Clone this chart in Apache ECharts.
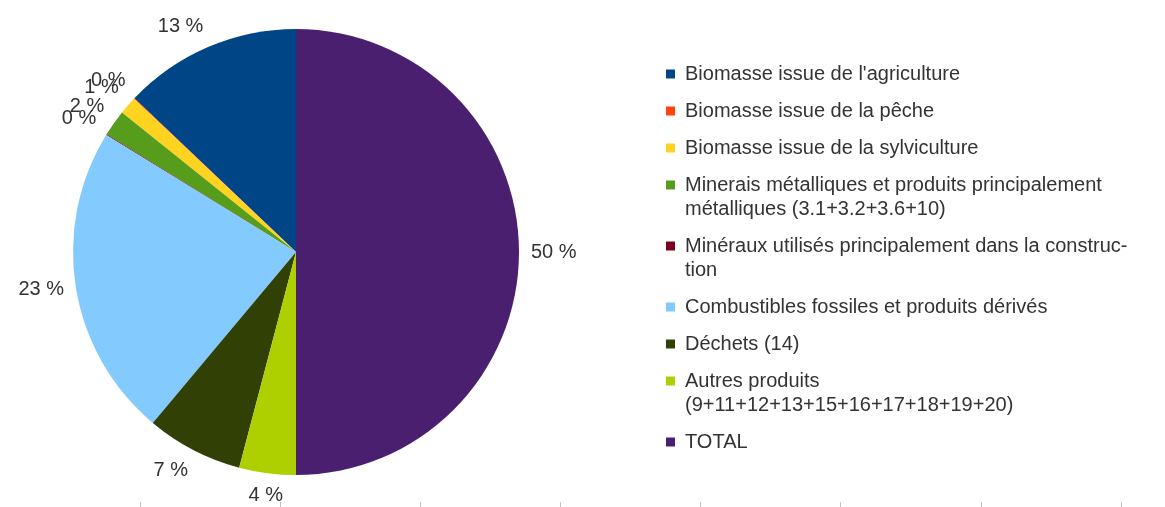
<!DOCTYPE html>
<html>
<head>
<meta charset="utf-8">
<script src="https://cdn.jsdelivr.net/npm/echarts@6/dist/echarts.min.js"></script>
<style>
  html, body { margin: 0; padding: 0; background: #fff; }
  #chart { width: 1165px; height: 507px; }
</style>
</head>
<body>
<div id="chart"></div>
<script>
// Categories of material flows (legend order)
const categories = [
  "Biomasse issue de l'agriculture",
  "Biomasse issue de la pêche",
  "Biomasse issue de la sylviculture",
  "Minerais métalliques et produits principalement\nmétalliques (3.1+3.2+3.6+10)",
  "Minéraux utilisés principalement dans la construc-\ntion",
  "Combustibles fossiles et produits dérivés",
  "Déchets (14)",
  "Autres produits\n(9+11+12+13+15+16+17+18+19+20)",
  "TOTAL"
];
// Shares (%)
const values = [12.9, 0.05, 1.3, 1.9, 0.05, 22.7, 7.0, 4.1, 50.0];
const colors = ['#004586', '#ff420e', '#ffd320', '#579d1c', '#7e0021', '#83caff', '#314004', '#aecf00', '#4b1f6f'];
// Decorative baseline ticks under the plot
const baseTicks = [0, 1, 2, 3, 4, 5, 6, 7];

const CENTER = [296, 252];
const RADIUS = 223;
const LABEL_GAP = 12;
const FONT = '"Liberation Sans", Arial, sans-serif';
const FONT_SIZE = 20;
const LINE_H = 24;
const LEGEND_LEFT = 666;
const LEGEND_TOP = 62;
const LEGEND_GAP = 13;

// Mid-angle of each slice, counter-clockwise from 12 o'clock
const sum = values.reduce((a, b) => a + b, 0);
const midAngles = [];
let acc = 0;
values.forEach(v => { midAngles.push((acc + v / 2) / sum * 2 * Math.PI); acc += v; });

// One legend block per entry so that multi-line entries keep the swatch on their first line
const legends = [];
let cursor = LEGEND_TOP;
categories.forEach(name => {
  const lines = name.split('\n').length;
  const multi = lines > 1;
  legends.push({
    orient: 'vertical',
    left: LEGEND_LEFT,
    top: cursor,
    padding: 0,
    itemWidth: 9,
    itemHeight: multi ? LINE_H + 9 : 9,
    // swatch drawn in the top 9px of a taller box for wrapped entries
    icon: multi ? 'path://M0,0h9v9h-9zM0,' + (LINE_H + 9 - 0.01) + 'h0.01v0.01h-0.01z' : 'rect',
    selectedMode: false,
    textStyle: { fontFamily: FONT, fontSize: FONT_SIZE, color: '#333', lineHeight: LINE_H, padding: [0, 0, 0, 5] },
    data: [name]
  });
  cursor += lines * LINE_H + LEGEND_GAP;
});

const chart = echarts.init(document.getElementById('chart'), null, { renderer: 'canvas' });

chart.setOption({
  animation: false,
  color: colors,
  grid: { left: 140, right: 44, top: 400, bottom: 5 },
  xAxis: {
    type: 'value', min: baseTicks[0], max: baseTicks[baseTicks.length - 1], interval: 1,
    axisLine: { show: false },
    axisTick: { show: true, length: 6, lineStyle: { color: '#c0c0c0', width: 1 } },
    axisLabel: { show: false },
    splitLine: { show: false }
  },
  yAxis: { type: 'value', show: false },
  legend: legends,
  series: [{
    type: 'pie',
    center: CENTER,
    radius: RADIUS,
    startAngle: 90,
    clockwise: false,
    avoidLabelOverlap: false,
    itemStyle: { borderWidth: 0 },
    label: {
      show: true,
      position: 'outside',
      fontFamily: FONT,
      fontSize: FONT_SIZE,
      color: '#333',
      formatter: p => Math.round(p.percent) + ' %'
    },
    labelLine: { show: false, length: 0, length2: 0 },
    // label anchored just outside the rim, aligned by the direction of the slice
    labelLayout: function (params) {
      const a = midAngles[params.dataIndex];
      const dx = -Math.sin(a), dy = -Math.cos(a);
      const d = RADIUS + LABEL_GAP;
      const lim = Math.sin(Math.PI / 8);
      const align = Math.abs(dx) < lim ? 'center' : (dx < 0 ? 'right' : 'left');
      const verticalAlign = Math.abs(dy) < lim ? 'middle' : (dy < 0 ? 'bottom' : 'top');
      return { x: CENTER[0] + dx * d, y: CENTER[1] + dy * d, align: align, verticalAlign: verticalAlign };
    },
    emphasis: { disabled: true },
    data: categories.map((name, i) => ({ name: name, value: values[i] }))
  }]
});
</script>
</body>
</html>
